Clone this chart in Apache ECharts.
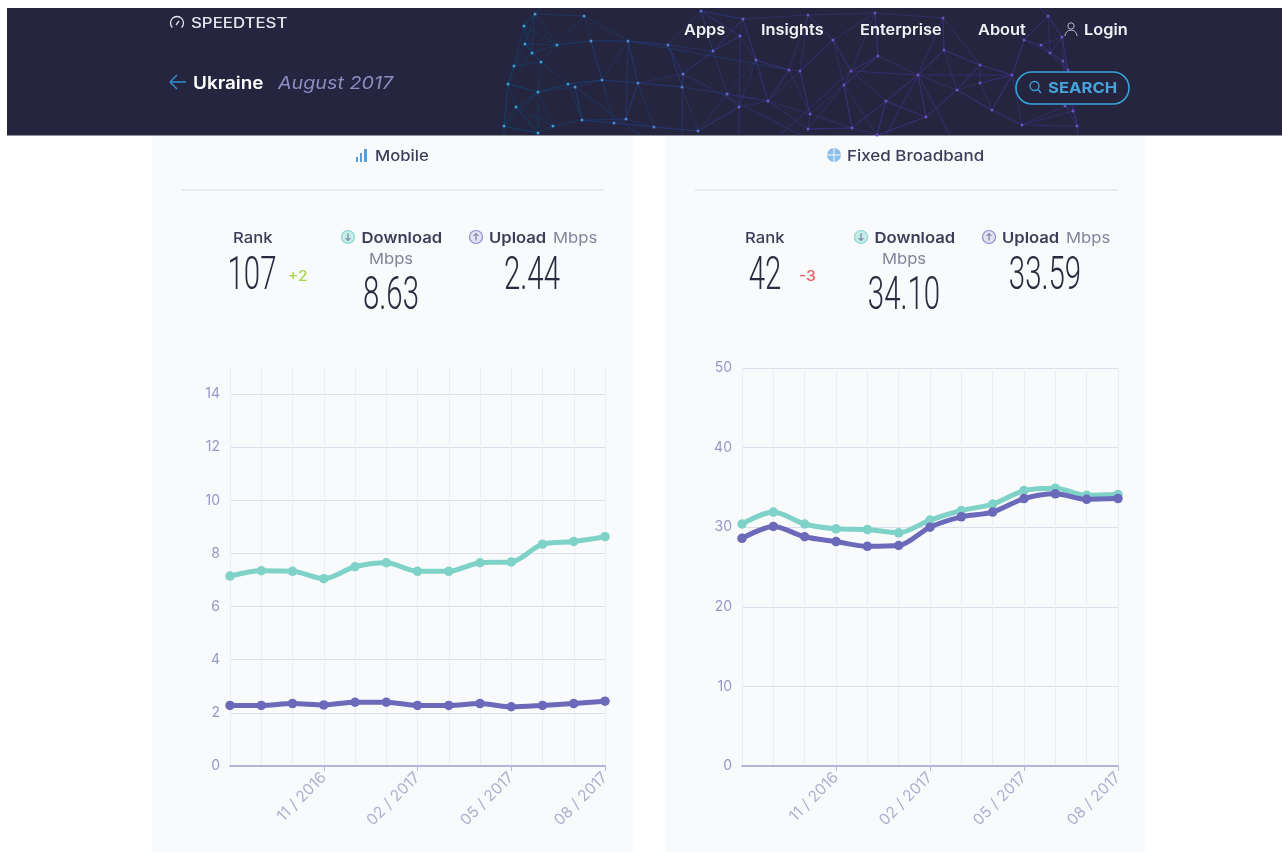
<!DOCTYPE html>
<html><head><meta charset="utf-8">
<style>html,body{margin:0;padding:0;background:#fff}#c{width:1282px;height:852px}</style>
<script src="https://cdn.jsdelivr.net/npm/echarts@6/dist/echarts.min.js"></script>
</head><body><div id="c"></div>
<script>
const months = ['08 / 2016','09 / 2016','10 / 2016','11 / 2016','12 / 2016','01 / 2017','02 / 2017','03 / 2017','04 / 2017','05 / 2017','06 / 2017','07 / 2017','08 / 2017'];
const labelledMonths = ['11 / 2016','02 / 2017','05 / 2017','08 / 2017'];
const mobileDownload = [7.15,7.35,7.33,7.05,7.5,7.65,7.33,7.33,7.65,7.68,8.35,8.45,8.63];
const mobileUpload = [2.28,2.28,2.35,2.3,2.4,2.4,2.28,2.28,2.35,2.23,2.28,2.35,2.44];
const fixedDownload = [30.4,31.9,30.4,29.8,29.7,29.3,30.9,32.1,32.9,34.6,34.9,34.0,34.1];
const fixedUpload = [28.6,30.1,28.8,28.2,27.6,27.7,30.0,31.3,31.9,33.6,34.2,33.5,33.59];

const FONT = 'Inter, "Noto Sans", sans-serif';
const TEAL = '#7fd2c8', PURPLE = '#6b69ba';
const g = [];
const rect = (x,y,w,h,fill) => g.push({type:'rect',shape:{x,y,width:w,height:h},style:{fill},silent:true});
const text = (x,y,t,o={}) => g.push({type:'text',x,y:y+1.2,scaleX:o.sx||1.11,silent:true,z:5,style:{x:0,y:0,text:t,fill:o.c||'#3c3d58',font:(o.st||'normal')+' '+(o.w||500)+' '+(o.s||15)+'px '+(o.f||FONT),textAlign:o.a||'left',textVerticalAlign:'middle'}});
const line = (x1,y1,x2,y2,stroke,lw=1,op=1) => g.push({type:'line',shape:{x1,y1,x2,y2},style:{stroke,lineWidth:lw,opacity:op},silent:true,z:2});
const circ = (cx,cy,r,o,z=3) => g.push({type:'circle',shape:{cx,cy,r},style:o,silent:true,z});

// page furniture
rect(152,136,481,716,'#f9fafb');
rect(665,136,480,716,'#f9fafb');
rect(7,8,1275,127.5,'#25253f');

// header globe (decoration only)
const nodes = [[535,14],[584,16],[524,26],[525,44],[557,45],[591,41],[628,41],[532,53],[541,62],[514,66],[508,84],[568,84],[575,87],[602,80],[638,83],[538,92],[516,107],[582,120],[626,119],[614,123],[504,126],[553,126],[538,133],[654,127],[683,74],[682,87],[668,45],[713,51],[740,36],[743,19],[701,11],[756,60],[789,70],[727,94],[739,107],[768,101],[698,131],[808,15],[875,13],[943,18],[833,40],[878,56],[800,71],[851,71],[918,75],[844,85],[886,101],[944,50],[980,65],[980,83],[957,90],[992,110],[926,117],[810,114],[808,129],[852,128],[877,135],[1024,40],[1041,45],[1050,53],[1048,16],[1062,37],[1063,61],[1068,70],[1012,75],[1073,111],[1065,106],[1077,126],[1022,125]];
const mix = x => { const t=Math.min(1,Math.max(0,(x-520)/280)); return [Math.round(14+t*46),Math.round(66-t*18),Math.round(108+t*20)]; };
nodes.forEach((a,i)=>{
  const near = nodes.map((b,j)=>[Math.hypot(a[0]-b[0],a[1]-b[1]),j]).filter(d=>d[1]!==i).sort((p,q)=>p[0]-q[0]).slice(0,4);
  near.forEach(([d,j])=>{ if(j>i||d>30){ const c=mix(a[0]); line(a[0],a[1],nodes[j][0],nodes[j][1],'rgb('+c+')',0.8,0.75);} });
});
[[504,126,504,135],[508,84,504,126],[514,66,508,84],[524,26,514,66],[535,14,524,26],[535,14,541,8],[1048,16,1062,37],[1062,37,1068,70],[1068,70,1073,111],[1073,111,1077,126],[1077,126,1078,135],[1048,16,1040,8],
 [628,41,626,119],[683,74,682,135],[740,36,739,135],[628,41,790,70],[575,87,640,135],[683,74,800,135],[851,71,918,75],[918,75,1012,75],[918,75,886,135],[851,71,780,135],[918,75,950,135]].forEach(s=>{const c=mix(s[0]);line(s[0],s[1],s[2],s[3],'rgb('+c+')',0.9,0.8);});
nodes.forEach(n=>{const t=Math.min(1,Math.max(0,(n[0]-540)/260));circ(n[0],n[1],1.5,{fill:'rgb('+[Math.round(60+t*50),Math.round(160-t*80),Math.round(215-t*20)]+')'});});

// header text
g.push({type:'arc',shape:{cx:177,cy:23,r:6.5,startAngle:Math.PI*0.75,endAngle:Math.PI*0.25,clockwise:true},style:{stroke:'#e4e5ee',lineWidth:1.3,fill:null},silent:true,z:4});
line(176,25,179,21,'#e4e5ee',1.3);
text(191,22.5,'SPEEDTEST',{c:'#e6e7ef',s:14,w:500,sx:1.2});
line(170,82,186,82,'#2f8fd0',1.5); line(170,82,177,75,'#2f8fd0',1.5); line(170,82,177,89,'#2f8fd0',1.5);
text(193,83,'Ukraine',{c:'#fff',s:17,w:600});
text(278,83,'August 2017',{c:'#8b8ec2',s:17,w:400,st:'italic',sx:1.16});
[['Apps',684],['Insights',761],['Enterprise',860],['About',978],['Login',1084]].forEach(([t,x])=>text(x,29.5,t,{c:'#f3f3f7',s:15,w:600,sx:1.09}));
circ(1071,26,3.2,{fill:null,stroke:'#b9bac9',lineWidth:1},4);
g.push({type:'arc',shape:{cx:1071,cy:36,r:6,startAngle:Math.PI,endAngle:0,clockwise:true},style:{stroke:'#b9bac9',lineWidth:1,fill:null},silent:true,z:4});
g.push({type:'rect',shape:{x:1016,y:72,width:113,height:32,r:16},style:{fill:'#25253f',stroke:'#35a4d8',lineWidth:1.6},silent:true,z:3});
circ(1034.5,86,4.5,{fill:null,stroke:'#3aa5dc',lineWidth:1.3},4);
g.push({type:'line',shape:{x1:1038,y1:89.5,x2:1041,y2:93},style:{stroke:'#3aa5dc',lineWidth:1.3},silent:true,z:4});
text(1048,87,'SEARCH',{c:'#45a6df',s:15,w:700});

// panel headers
[[356,2,157],[360,2,153],[364,3,149]].forEach(([x,w,y])=>rect(x,y,w,162-y,'#5b9bd6'));
text(375,155,'Mobile',{s:15});
circ(834,155,7,{fill:'#8cc0ea'},4);
line(827,155,841,155,'#f9fafb',1); line(834,148,834,162,'#f9fafb',1);
g.slice(-2).forEach(e=>e.z=4);
text(847,155,'Fixed Broadband',{s:15,sx:1.13});
rect(182,189,422,2,'#e9ebf1');
rect(695,189,423,2,'#e9ebf1');

const arrow = (cx,cy,col,dir) => {
  circ(cx,cy,6.5,{fill:col==='#8ad8d4'?'#c5ece9':'#e3e1f2',stroke:col,lineWidth:1.2},4);
  line(cx,cy-3.5,cx,cy+3.5,'#5e6a90',1);
  line(cx-2.5,cy+dir*1,cx,cy+dir*3.5,'#5e6a90',1);
  line(cx+2.5,cy+dir*1,cx,cy+dir*3.5,'#5e6a90',1);
  g.slice(-3).forEach(e=>e.z=4);
};
const BIG = {s:46,w:300,f:'Roboto, sans-serif',c:'#2a2b40',sx:0.64,a:'center'};
const stats = (o) => {
  text(o.rx,237,'Rank',{s:15});
  text(o.rv,276.5,o.rank,BIG);
  text(o.dx,276,o.delta,{c:o.dc,s:14,w:500});
  arrow(o.dIcon,237,'#8ad8d4',1);
  text(o.dIcon+13.5,237,'Download',{s:15,w:600});
  text(o.dc2,258,'Mbps',{s:15,c:'#82849c',a:'center',w:400});
  text(o.dc2,296.5,o.down,BIG);
  arrow(o.uIcon,237,'#8f8cd0',-1);
  text(o.uIcon+13,237,'Upload',{s:15,w:600});
  text(o.uIcon+77,237,'Mbps',{s:15,c:'#82849c',w:400});
  text(o.uc,276.5,o.up,BIG);
};
stats({rx:233,rv:252,rank:'107',dx:288,delta:'+2',dc:'#a8d44c',dIcon:348,dc2:391,down:'8.63',uIcon:476,uc:532,up:'2.44'});
stats({rx:745,rv:765,rank:'42',dx:799,delta:'-3',dc:'#ee5a5f',dIcon:861,dc2:904,down:'34.10',uIcon:989,uc:1045,up:'33.59'});

const xAxis = (gridIndex) => ({
  type:'category',gridIndex,data:months,boundaryGap:false,
  axisLine:{lineStyle:{color:'#9c9dd2',width:1.5}},
  axisTick:{length:5,lineStyle:{color:'#b9bad8'},interval:(i,v)=>labelledMonths.includes(v)},
  axisLabel:{rotate:45,margin:9,fontSize:15.5,fontFamily:FONT,color:'#adb0cf',interval:(i,v)=>labelledMonths.includes(v),hideOverlap:false},
  splitLine:{show:true,interval:0,lineStyle:{color:'#eceef5',width:1}}
});
const yAxis = (gridIndex,max,interval) => ({
  type:'value',gridIndex,min:0,max,interval,
  axisLine:{show:false},axisTick:{show:false},
  axisLabel:{margin:10,fontSize:14,fontFamily:FONT,color:'#9599c4',showMaxLabel:max%interval===0},
  splitLine:{showMinLine:false,showMaxLine:max%interval===0,lineStyle:{color:'#dcdeec',width:1}}
});
const ser = (i,name,data,color) => ({
  type:'line',name,xAxisIndex:i,yAxisIndex:i,data,smooth:0.3,symbol:'circle',symbolSize:9.5,
  lineStyle:{color,width:5},itemStyle:{color},silent:true,animation:false
});
const chart = echarts.init(document.getElementById('c'),null,{renderer:'canvas'});
chart.setOption({
  animation:false,backgroundColor:'#ffffff',
  graphic:{elements:g},
  grid:[{left:230,right:677,top:367.5,bottom:86},{left:742,right:164,top:368,bottom:86}],
  xAxis:[xAxis(0),xAxis(1)],
  yAxis:[yAxis(0,15,2),yAxis(1,50,10)],
  series:[
    ser(0,'Download',mobileDownload,TEAL),ser(0,'Upload',mobileUpload,PURPLE),
    ser(1,'Download',fixedDownload,TEAL),ser(1,'Upload',fixedUpload,PURPLE)
  ]
});
</script></body></html>
